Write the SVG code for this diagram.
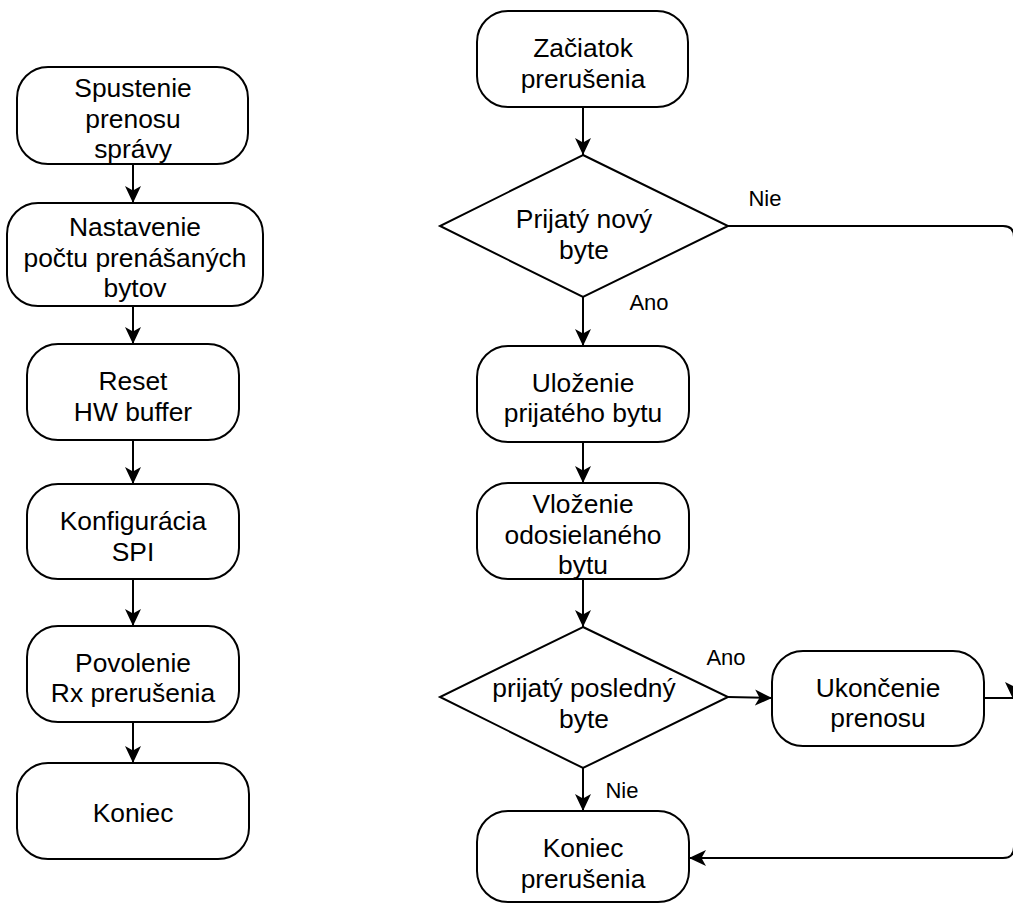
<svg xmlns="http://www.w3.org/2000/svg" width="1013" height="903" viewBox="0 0 1013 903">
  <style>
    .box { fill: #ffffff; stroke: #000000; stroke-width: 2; }
    .edge { fill: none; stroke: #000000; stroke-width: 2; }
    .t { font-family: "Liberation Sans", Arial, Helvetica, sans-serif; font-size: 26.4px; fill: #000000; text-anchor: middle; }
    .lbl { font-family: "Liberation Sans", Arial, Helvetica, sans-serif; font-size: 22px; fill: #000000; text-anchor: middle; }
  </style>
  <defs>
    <marker id="arrow" markerUnits="userSpaceOnUse" viewBox="0 0 18 18" markerWidth="18" markerHeight="18" refX="17" refY="9" orient="auto">
      <path d="M0,1 L17,9 L0,17 L4.5,9 Z" fill="#000000" stroke="none"/>
    </marker>
  </defs>

  <rect width="1013" height="903" fill="#ffffff"/>

  <!-- connectors -->
  <g id="connectors">
    <!-- left flow -->
    <line class="edge" x1="133" y1="164" x2="133" y2="203" marker-end="url(#arrow)"/>
    <line class="edge" x1="133" y1="306" x2="133" y2="344" marker-end="url(#arrow)"/>
    <line class="edge" x1="133" y1="440" x2="133" y2="484" marker-end="url(#arrow)"/>
    <line class="edge" x1="133" y1="579" x2="133" y2="626" marker-end="url(#arrow)"/>
    <line class="edge" x1="133" y1="722" x2="133" y2="763" marker-end="url(#arrow)"/>
    <!-- interrupt flow -->
    <line class="edge" x1="583" y1="107" x2="583" y2="155" marker-end="url(#arrow)"/>
    <line class="edge" x1="583" y1="297" x2="583" y2="346" marker-end="url(#arrow)"/>
    <line class="edge" x1="583" y1="442" x2="583" y2="483" marker-end="url(#arrow)"/>
    <line class="edge" x1="583" y1="579" x2="583" y2="627" marker-end="url(#arrow)"/>
    <line class="edge" x1="583" y1="768" x2="583" y2="811" marker-end="url(#arrow)"/>
    <line class="edge" x1="728" y1="697" x2="772" y2="698" marker-end="url(#arrow)"/>
    <!-- Nie branch routed along the right side back to the end node -->
    <path class="edge" d="M728,226 L1003,226 Q1014,226 1014,237 L1014,847 Q1014,858 1003,858 L689,858" marker-end="url(#arrow)"/>
    <!-- end of transfer joins the right-hand return line -->
    <line class="edge" x1="984" y1="698" x2="1013" y2="698"/>
    <path d="M1005,682 L1013,686 L1021,682 L1013,699 Z" fill="#000000"/>
    <!-- branch labels -->
    <text class="lbl" x="765" y="206">Nie</text>
    <text class="lbl" x="649" y="310">Ano</text>
    <text class="lbl" x="726" y="665">Ano</text>
    <text class="lbl" x="622" y="798">Nie</text>
  </g>

  <!-- left column: transfer start -->
  <g id="spustenie">
    <rect class="box" x="17" y="67" width="231" height="97" rx="31" ry="31"/>
    <text class="t" x="133" y="97">Spustenie</text>
    <text class="t" x="133" y="127.5">prenosu</text>
    <text class="t" x="133" y="158">správy</text>
  </g>
  <g id="nastavenie">
    <rect class="box" x="7" y="203" width="256" height="103" rx="31" ry="31"/>
    <text class="t" x="135" y="236">Nastavenie</text>
    <text class="t" x="135" y="266.5">počtu prenášaných</text>
    <text class="t" x="135" y="297">bytov</text>
  </g>
  <g id="reset">
    <rect class="box" x="27" y="344" width="212" height="96" rx="31" ry="31"/>
    <text class="t" x="133" y="390">Reset</text>
    <text class="t" x="133" y="420.5">HW buffer</text>
  </g>
  <g id="konfiguracia">
    <rect class="box" x="27" y="484" width="212" height="95" rx="31" ry="31"/>
    <text class="t" x="133" y="530">Konfigurácia</text>
    <text class="t" x="133" y="560.5">SPI</text>
  </g>
  <g id="povolenie">
    <rect class="box" x="27" y="626" width="212" height="96" rx="31" ry="31"/>
    <text class="t" x="133" y="671.5">Povolenie</text>
    <text class="t" x="133" y="702">Rx prerušenia</text>
  </g>
  <g id="koniec">
    <rect class="box" x="17" y="763" width="232" height="96" rx="31" ry="31"/>
    <text class="t" x="133" y="822">Koniec</text>
  </g>

  <!-- right column: interrupt handler -->
  <g id="zaciatok">
    <rect class="box" x="477" y="11" width="211" height="96" rx="31" ry="31"/>
    <text class="t" x="583" y="57">Začiatok</text>
    <text class="t" x="583" y="87.5">prerušenia</text>
  </g>
  <g id="prijaty-novy">
    <polygon class="box" points="583,155 728,226 583,297 440,226"/>
    <text class="t" x="584" y="228">Prijatý nový</text>
    <text class="t" x="584" y="258.5">byte</text>
  </g>
  <g id="ulozenie">
    <rect class="box" x="477" y="346" width="212" height="96" rx="31" ry="31"/>
    <text class="t" x="583" y="391.5">Uloženie</text>
    <text class="t" x="583" y="422">prijatého bytu</text>
  </g>
  <g id="vlozenie">
    <rect class="box" x="477" y="483" width="212" height="96" rx="31" ry="31"/>
    <text class="t" x="583" y="513">Vloženie</text>
    <text class="t" x="583" y="543.5">odosielaného</text>
    <text class="t" x="583" y="574">bytu</text>
  </g>
  <g id="prijaty-posledny">
    <polygon class="box" points="583,627 728,697 583,768 440,697"/>
    <text class="t" x="584" y="697">prijatý posledný</text>
    <text class="t" x="584" y="727.5">byte</text>
  </g>
  <g id="ukoncenie">
    <rect class="box" x="772" y="651" width="212" height="95" rx="31" ry="31"/>
    <text class="t" x="878" y="696.5">Ukončenie</text>
    <text class="t" x="878" y="727">prenosu</text>
  </g>
  <g id="koniec-prerusenia">
    <rect class="box" x="477" y="811" width="212" height="91" rx="31" ry="31"/>
    <text class="t" x="583" y="857">Koniec</text>
    <text class="t" x="583" y="887.5">prerušenia</text>
  </g>
</svg>
